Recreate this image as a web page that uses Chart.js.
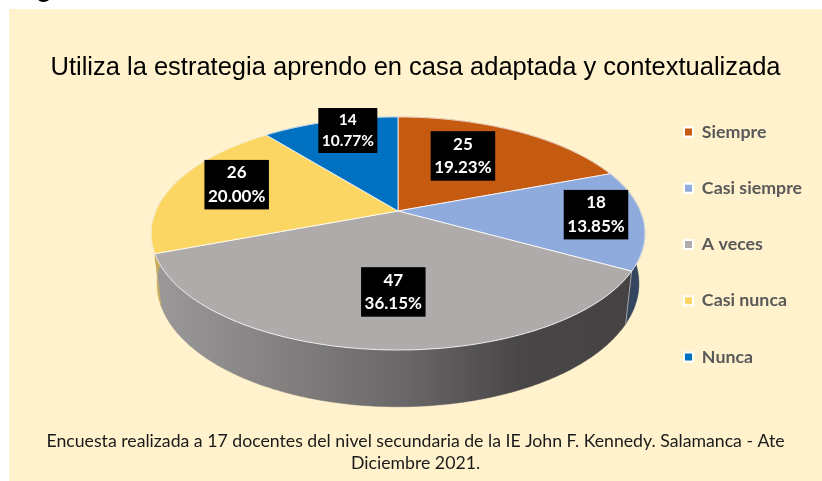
<!DOCTYPE html>
<html><head><meta charset="utf-8">
<style>html,body{margin:0;padding:0;background:#fff}canvas{display:block}</style>
<script src="https://cdn.jsdelivr.net/npm/chart.js@4"></script>
</head><body><canvas id="c" width="822" height="481"></canvas>
<script>
const categories = ['Siempre','Casi siempre','A veces','Casi nunca','Nunca'];
const counts = [25,18,47,26,14];
const percents = ['19.23%','13.85%','36.15%','20.00%','10.77%'];
const colors = ['#C55A11','#8FAADC','#AFABAB','#FBD663','#0070C0'];
const wallColors = ['#8a3f0c','#34465F','#767373','#C9AD5C','#004f86'];
const titleText = 'Utiliza la estrategia aprendo en casa adaptada y contextualizada';
const footerLines = ['Encuesta realizada a 17 docentes del nivel secundaria de la IE John F. Kennedy. Salamanca - Ate','Diciembre 2021.'];

// perspective pie geometry
const CENTRE = {x:398, y:211}, RADIUS = 242.3, SQUASH = 0.463, PERSP = 0.193, DEPTH_W = 0.024, DEPTH_Y = 50.5;
// label placement: fraction of radius along slice middle, then nudge
const labelFrac = [0.51,0.81,0.635,0.715,0.883];
const labelNudge = [[0,-11.5],[0,-3],[8,0],[0,-6],[11,0]];

function proj(a,f,deep){
  const u=Math.cos(a), v=Math.sin(a);
  const w=1-PERSP*v*f+(deep?DEPTH_W:0);
  return {x:CENTRE.x+RADIUS*f*u/w, y:CENTRE.y+(RADIUS*SQUASH*f*v+(deep?DEPTH_Y:0))/w};
}
function arcPts(s,e,deep){
  const n=Math.max(2,Math.ceil((e-s)/0.01)), pts=[];
  for(let i=0;i<=n;i++) pts.push(proj(s+(e-s)*i/n,1,deep));
  return pts;
}
function drawTop(ctx){
  const p=this.getProps(['startAngle','endAngle'],true);
  const c=proj(0,0,false);
  ctx.beginPath(); ctx.moveTo(c.x,c.y);
  arcPts(p.startAngle,p.endAngle,false).forEach(q=>ctx.lineTo(q.x,q.y));
  ctx.closePath();
  ctx.fillStyle=this.options.backgroundColor; ctx.fill();
  ctx.strokeStyle='rgba(255,255,255,0.8)'; ctx.lineWidth=1; ctx.lineJoin='round'; ctx.stroke();
}
const pie3d = {
  id:'pie3d',
  beforeDraw(chart){
    const {ctx,width,height}=chart;
    ctx.save();
    ctx.fillStyle='#FFF2CC'; ctx.fillRect(9,9,width-9,height-9);
    ctx.fillStyle='#000'; ctx.font='bold 26px "Liberation Sans"'; ctx.textAlign='center'; ctx.textBaseline='alphabetic';
    ctx.fillText('g',44,-3);
    ctx.restore();
  },
  beforeDatasetsDraw(chart){
    const {ctx}=chart, meta=chart.getDatasetMeta(0);
    ctx.save();
    meta.data.forEach((el,i)=>{
      el.draw=drawTop;
      const s=el.startAngle,e=el.endAngle;
      const top=arcPts(s,e,false), bot=arcPts(s,e,true).reverse();
      ctx.beginPath();
      top.concat(bot).forEach((q,k)=>k?ctx.lineTo(q.x,q.y):ctx.moveTo(q.x,q.y));
      ctx.closePath();
      let fill=wallColors[i];
      if(i===2){
        const g=ctx.createLinearGradient(158,0,640,0);
        g.addColorStop(0,'#9A9898'); g.addColorStop(0.3,'#7F7D7C'); g.addColorStop(0.52,'#686666');
        g.addColorStop(0.75,'#484646'); g.addColorStop(1,'#444242');
        fill=g;
      }
      ctx.fillStyle=fill; ctx.fill();
      ctx.strokeStyle=fill; ctx.lineWidth=0.5; ctx.stroke();
    });
    // divider between grey and blue walls
    const el=meta.data[2], a=proj(el.startAngle,1,false), b=proj(el.startAngle,1,true);
    ctx.beginPath(); ctx.moveTo(a.x,a.y); ctx.lineTo(b.x,b.y);
    ctx.strokeStyle='rgba(200,200,200,0.7)'; ctx.lineWidth=1; ctx.stroke();
    ctx.restore();
  },
  afterDatasetsDraw(chart){
    const {ctx}=chart, meta=chart.getDatasetMeta(0);
    ctx.save();
    ctx.textAlign='center'; ctx.textBaseline='middle';
    meta.data.forEach((el,i)=>{
      const mid=(el.startAngle+el.endAngle)/2;
      const c=proj(mid,labelFrac[i],false);
      const x=c.x+labelNudge[i][0], y=c.y+labelNudge[i][1];
      const small=counts[i]===14;
      const bw=small?59:64.5, bh=small?45:49.5, lh=small?21:23.5;
      ctx.fillStyle='#000'; ctx.fillRect(x-bw/2,y-bh/2,bw,bh);
      ctx.fillStyle='#fff'; ctx.font='bold '+(small?15.5:17)+'px Lato';
      ctx.fillText(String(counts[i]),x,y-lh/2);
      ctx.fillText(percents[i],x,y+lh/2);
    });
    ctx.restore();
  }
};
new Chart(document.getElementById('c'),{
  type:'pie',
  data:{labels:categories,datasets:[{data:counts,backgroundColor:colors,borderColor:'#fff',borderWidth:2}]},
  plugins:[pie3d],
  options:{
    responsive:false,animation:false,radius:RADIUS,
    layout:{padding:{left:19,right:10,top:8}},
    plugins:{
      tooltip:{enabled:false},
      title:{display:true,text:titleText,color:'#000',font:{family:'"Liberation Sans"',size:25.5,weight:'normal'},padding:{top:45,bottom:20}},
      subtitle:{display:true,position:'bottom',text:footerLines,color:'#1a1a1a',font:{family:'Lato',size:17.7,weight:'normal',lineHeight:1.22},padding:{top:34,bottom:7}},
      legend:{position:'right',labels:{boxWidth:9,boxHeight:9,color:'#595959',font:{family:'Lato',size:17.8,weight:'bold'},padding:38.4}}
    }
  }
});
</script></body></html>
